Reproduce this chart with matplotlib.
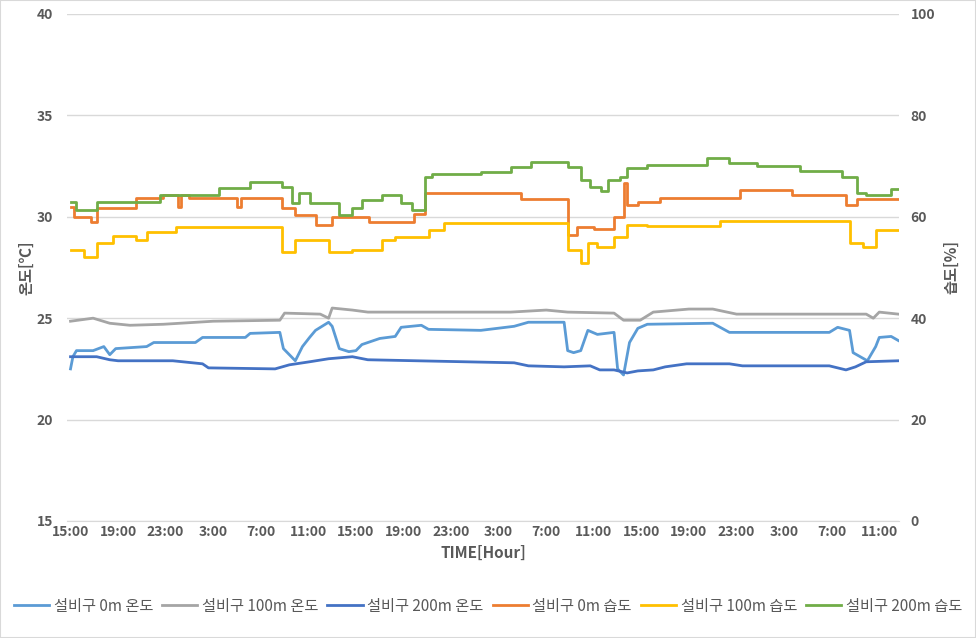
import matplotlib
matplotlib.use('Agg')
import matplotlib.pyplot as plt
from matplotlib.patches import Rectangle

plt.rcParams['font.family'] = ['Noto Sans CJK KR', 'DejaVu Sans']

# time axis: hours after the first 15:00 sample
tick_hours = list(range(0, 69, 4))
tick_labels = ['15:00', '19:00', '23:00', '3:00', '7:00', '11:00',
               '15:00', '19:00', '23:00', '3:00', '7:00', '11:00',
               '15:00', '19:00', '23:00', '3:00', '7:00', '11:00']

# temperature [°C], left axis
t0_hours = [0, 0.2, 0.5, 1.9, 2.8, 3.3, 3.8, 6.4, 7.0, 10.5, 11.1, 14.7, 15.1, 17.6,
            17.9, 18.9, 19.5, 20.1, 20.6, 21.7, 22.0, 22.6, 23.4, 24.0, 24.5, 26.0,
            27.3, 27.8, 29.5, 30.1, 34.5, 37.3, 38.5, 41.5, 41.8, 42.3, 42.9, 43.5,
            44.3, 45.7, 46.0, 46.5, 47.0, 47.7, 48.5, 54.0, 55.4, 63.8, 64.5, 65.5,
            65.8, 67.0, 67.7, 68.0, 69.0, 69.6]
t0_vals = [22.5, 23.1, 23.4, 23.4, 23.6, 23.2, 23.5, 23.6, 23.8, 23.8, 24.05, 24.05,
           24.25, 24.3, 23.5, 22.9, 23.6, 24.05, 24.4, 24.8, 24.6, 23.5, 23.35, 23.4,
           23.7, 24.0, 24.1, 24.55, 24.65, 24.45, 24.4, 24.6, 24.8, 24.8, 23.4, 23.3,
           23.4, 24.4, 24.2, 24.3, 22.5, 22.2, 23.8, 24.5, 24.7, 24.75, 24.3, 24.3,
           24.55, 24.4, 23.3, 22.9, 23.6, 24.05, 24.1, 23.9]

t100_hours = [0, 1.9, 3.3, 5.0, 7.8, 12.0, 17.6, 18.0, 21.0, 21.7, 22.0, 23.7, 25.0,
              37.0, 40.0, 41.8, 45.7, 46.5, 47.9, 49.0, 52.0, 54.0, 56.0, 62.0, 66.9,
              67.5, 68.0, 69.6]
t100_vals = [24.85, 25.0, 24.75, 24.65, 24.7, 24.85, 24.9, 25.25, 25.2, 25.0, 25.5,
             25.4, 25.3, 25.3, 25.4, 25.3, 25.25, 24.9, 24.9, 25.3, 25.45, 25.45, 25.2,
             25.2, 25.2, 25.0, 25.3, 25.2]

t200_hours = [0, 2.2, 3.3, 4.0, 8.6, 11.1, 11.6, 17.2, 18.4, 20.1, 21.7, 23.7, 25.0,
              37.3, 38.5, 41.5, 43.7, 44.5, 45.7, 46.8, 47.7, 49.0, 50.0, 51.8, 55.4,
              56.5, 63.8, 65.2, 66.0, 66.9, 69.6]
t200_vals = [23.1, 23.1, 22.95, 22.9, 22.9, 22.75, 22.55, 22.5, 22.7, 22.85, 23.0, 23.1,
             22.95, 22.8, 22.65, 22.6, 22.65, 22.45, 22.45, 22.3, 22.4, 22.45, 22.6,
             22.75, 22.75, 22.65, 22.65, 22.45, 22.6, 22.85, 22.9]

# humidity [%], right axis
h0_hours = [0, 0.3, 1.7, 2.2, 5.5, 7.8, 9.0, 9.3, 10.0, 14.0, 14.3, 17.8, 18.9, 20.6,
            22.0, 25.1, 28.9, 29.8, 34.5, 37.9, 41.8, 42.6, 44.0, 45.7, 46.5, 46.8,
            47.7, 49.6, 56.3, 60.7, 65.2, 66.1, 69.6]
h0_vals = [62.0, 60.0, 59.0, 61.7, 63.7, 64.3, 62.0, 64.3, 63.7, 62.0, 63.7, 61.7, 60.4,
           58.4, 60.0, 59.0, 60.5, 64.7, 64.7, 63.5, 56.4, 58.0, 57.5, 60.0, 66.6, 62.3,
           63.0, 63.7, 65.3, 64.3, 62.3, 63.5, 63.5]

h100_hours = [0, 1.1, 2.2, 3.6, 5.5, 6.4, 8.9, 17.8, 18.9, 21.7, 23.7, 26.2, 27.3, 30.1,
              31.4, 41.8, 42.9, 43.5, 44.3, 45.7, 46.8, 48.5, 54.6, 65.5, 66.6, 67.7,
              69.6]
h100_vals = [53.5, 52.1, 54.8, 56.2, 55.5, 57.0, 58.0, 53.1, 55.4, 53.0, 53.5, 55.4, 56.0,
             57.4, 58.8, 53.5, 50.9, 54.8, 54.0, 56.0, 58.4, 58.2, 59.2, 54.8, 54.0, 57.4,
             57.4]

h200_hours = [0, 0.5, 2.2, 7.5, 12.5, 15.1, 17.8, 18.6, 19.2, 20.1, 22.6, 23.7, 24.5,
              26.2, 27.8, 28.7, 29.8, 30.4, 34.5, 37.0, 38.7, 41.8, 42.9, 43.7, 44.6,
              45.2, 46.2, 46.8, 48.5, 53.5, 55.4, 57.7, 61.3, 64.9, 66.1, 66.9, 69.0,
              69.6]
h200_vals = [63.0, 61.3, 63.0, 64.3, 65.7, 66.8, 65.9, 62.7, 64.7, 62.7, 60.4, 61.7, 63.3,
             64.3, 62.7, 61.3, 67.8, 68.4, 68.8, 69.8, 70.8, 69.8, 67.3, 65.9, 65.0, 67.3,
             67.8, 69.6, 70.2, 71.6, 70.6, 70.0, 69.0, 67.9, 64.7, 64.3, 65.5, 65.5]

labels = ['설비구 0m 온도', '설비구 100m 온도', '설비구 200m 온도',
          '설비구 0m 습도', '설비구 100m 습도', '설비구 200m 습도']
colors = ['#5B9BD5', '#A5A5A5', '#4472C4', '#ED7D31', '#FFC000', '#70AD47']

text_color = '#595959'
grid_color = '#D9D9D9'

fig = plt.figure(figsize=(9.76, 6.38), dpi=100)
fig.patches.append(Rectangle((0, 0), 1, 1, transform=fig.transFigure, fill=False,
                             edgecolor=grid_color, linewidth=1.5))

ax = fig.add_axes([0.0686, 0.1834, 0.853, 0.7947])
ax2 = ax.twinx()

lines = []
for hrs, vals, c in [(t0_hours, t0_vals, colors[0]),
                     (t100_hours, t100_vals, colors[1]),
                     (t200_hours, t200_vals, colors[2])]:
    ln, = ax.plot(hrs, vals, color=c, lw=2.0)
    lines.append(ln)
for hrs, vals, c in [(h0_hours, h0_vals, colors[3]),
                     (h100_hours, h100_vals, colors[4]),
                     (h200_hours, h200_vals, colors[5])]:
    ln, = ax2.plot(hrs, vals, color=c, lw=2.0, drawstyle='steps-post')
    lines.append(ln)

ax.set_xlim(-0.3, 69.7)
ax.set_ylim(15, 40)
ax2.set_ylim(0, 100)
ax.set_yticks(range(15, 41, 5))
ax2.set_yticks(range(0, 101, 20))
ax.set_xticks(tick_hours)
ax.set_xticklabels(tick_labels)
ax.grid(axis='y', color=grid_color, lw=1)
ax.set_axisbelow(True)

for a in (ax, ax2):
    for s in a.spines.values():
        s.set_visible(False)
    a.tick_params(length=0, colors=text_color, labelsize=10)
    for t in a.get_xticklabels() + a.get_yticklabels():
        t.set_fontweight('bold')
ax.spines['bottom'].set_visible(True)
ax.spines['bottom'].set_color(grid_color)
ax.tick_params(axis='y', pad=10)
ax2.tick_params(axis='y', pad=8)
ax.tick_params(axis='x', pad=3)

ax.set_ylabel('온도[℃]', color=text_color, fontsize=11, fontweight='bold', labelpad=2)
ax2.set_ylabel('습도[%]', color=text_color, fontsize=11, fontweight='bold',
               rotation=90, labelpad=6)
ax.set_xlabel('TIME[Hour]', color=text_color, fontsize=11, fontweight='bold', labelpad=4)

fig.legend(lines, labels, loc='center', bbox_to_anchor=(0.5, 0.05), ncol=6,
           frameon=False, fontsize=11, handlelength=2.3, columnspacing=0.6,
           handletextpad=0.3, labelcolor=text_color)

fig.savefig('out.png', dpi=100)
